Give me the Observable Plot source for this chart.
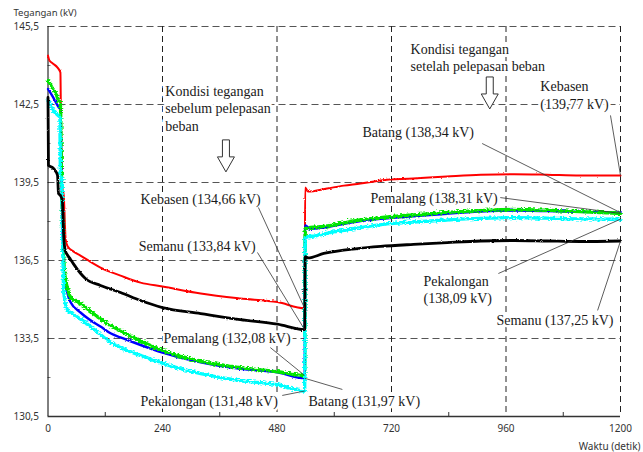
<!DOCTYPE html>
<html>
<head>
<meta charset="utf-8">
<script src="https://cdn.jsdelivr.net/npm/d3@7"></script>
<script src="https://cdn.jsdelivr.net/npm/@observablehq/plot@0.6"></script>
<style>
  html, body { margin: 0; padding: 0; background: #fff; }
</style>
</head>
<body>
<!-- Texture filters for the measured (noisy) voltage traces -->
<svg width="0" height="0" style="position:absolute">
  <defs>
    <filter id="noise-strong" x="-2%" y="-10%" width="104%" height="120%">
      <feTurbulence type="fractalNoise" baseFrequency="0.45 0.9" numOctaves="1" seed="7" result="n"/>
      <feDisplacementMap in="SourceGraphic" in2="n" scale="5.5" xChannelSelector="R" yChannelSelector="G"/>
    </filter>
    <filter id="noise-light" x="-2%" y="-10%" width="104%" height="120%">
      <feTurbulence type="fractalNoise" baseFrequency="0.5 0.9" numOctaves="1" seed="3" result="n"/>
      <feDisplacementMap in="SourceGraphic" in2="n" scale="2.5" xChannelSelector="R" yChannelSelector="G"/>
    </filter>
  </defs>
</svg>
<div id="chart"></div>
<script>
// Substation voltages (kV) over time (s), before and after load shedding.
const stations = ["Kebasen", "Semanu", "Pemalang", "Batang", "Pekalongan"];
const shedTime = 538;   // moment of load shedding (s)
const endTime = 1200;   // end of the record (s)
const valueBefore = [134.66, 133.84, 132.08, 131.97, 131.48]; // just before shedding
const valueAfter = [139.77, 137.25, 138.31, 138.34, 138.09];  // end of record

// [time, kV] readings before shedding
const kebasenPre = [[0,144.38],[3,144.19],[10,144.08],[20,143.92],[26,143.73],[27,142.3],[30,139.3],[33,139.0],[37,137.3],[41,137.05],[53,136.85],[68,136.69],[89,136.45],[110,136.23],[152,135.92],[194,135.65],[240,135.5],[320,135.23],[403,135.04],[481,134.9]];
const semanuPre = [[0,142.77],[1,140.15],[9,140.08],[15,139.96],[20,139.77],[22,139.08],[26,139.0],[30,138.81],[33,137.4],[36,136.9],[41,136.7],[47,136.55],[53,136.38],[79,135.8],[110,135.54],[152,135.27],[194,134.96],[240,134.69],[320,134.46],[403,134.23],[481,134.05]];
const pemalangPre = [[0,143.42],[5,143.27],[10,143.1],[16,142.96],[22,142.65],[26,142.55],[28,140.0],[31,137.5],[35,136.0],[40,135.5],[47,135.1],[68,134.85],[89,134.55],[110,134.25],[131,134.0],[152,133.8],[194,133.4],[240,133.04],[320,132.62],[403,132.38],[481,132.22]];
const batangPre = [[0,143.1],[10,142.8],[22,142.4],[26,142.3],[28,140.0],[31,137.3],[35,135.8],[40,135.3],[47,134.9],[68,134.5],[89,134.2],[110,133.96],[131,133.7],[152,133.54],[194,133.25],[240,132.96],[320,132.58],[403,132.33],[481,132.2]];
const pekalonganPre = [[0,142.65],[5,142.5],[10,142.3],[20,142.1],[25,142.0],[26,139.8],[29,139.6],[31,137.0],[33,135.3],[37,134.8],[41,134.6],[47,134.5],[68,134.25],[89,133.96],[110,133.65],[131,133.35],[152,133.15],[194,132.85],[240,132.54],[320,132.15],[403,131.88],[481,131.72]];

// [time, kV] readings after shedding
const kebasenPost = [[539,139.31],[545,139.15],[585,139.27],[620,139.38],[655,139.46],[697,139.58],[765,139.65],[836,139.73],[907,139.8],[977,139.82],[1046,139.8],[1115,139.77]];
const semanuPost = [[539,136.65],[545,136.6],[578,136.77],[649,136.96],[697,137.04],[766,137.12],[837,137.19],[907,137.25],[977,137.27],[1046,137.25],[1115,137.23]];
const pemalangPost = [[539,137.73],[550,137.77],[578,137.81],[649,138.05],[697,138.15],[766,138.25],[837,138.35],[907,138.42],[977,138.46],[1046,138.43],[1115,138.38]];
const batangPost = [[539,137.85],[550,137.72],[578,137.77],[649,138.0],[697,138.1],[766,138.2],[837,138.3],[907,138.38],[977,138.42],[1046,138.4],[1115,138.37]];
const pekalonganPost = [[539,137.38],[560,137.45],[600,137.6],[650,137.75],[697,137.88],[766,137.98],[837,138.06],[907,138.12],[977,138.15],[1046,138.13],[1115,138.1]];

const preReadings = [kebasenPre, semanuPre, pemalangPre, batangPre, pekalonganPre];
const postReadings = [kebasenPost, semanuPost, pemalangPost, batangPost, pekalonganPost];

// Axis ticks
const xTicks = [0, 240, 480, 720, 960, 1200];
const xMinor = [120, 360, 600, 840, 1080];
const yTicks = [130.5, 133.5, 136.5, 139.5, 142.5, 145.5];
const yMinor = [132, 135, 138, 141, 144];

// Callout placement [time, kV]: text anchor, and where its leader line starts
const preLabelAt = [[194,138.88],[190,137.08],[242,133.54],[546,131.12],[194,131.12]];
const preLeaderFrom = [[441,138.54],[439,136.81],[466,133.15],[617,131.54],[491,131.31]];
const postLabelAt = [[1032,142.88],[940,134.23],[676,138.92],[659,141.46],[787,135.4]];
const postLeaderFrom = [[1179,142.08],[1152,134.58],[948,138.92],[910,141.0],[944,136.0]];
const postTwoLines = [true, false, false, false, true];

// Condition notes with their hollow arrows
const conditionNotes = ["Kondisi tegangan\nsebelum pelepasan\nbeban", "Kondisi tegangan\nsetelah pelepasan beban"];
const conditionAt = [[246,142.38],[760,144.33]];
const arrowsAt = [[374,141.12],[927,143.54]];

const comma = (v, n) => v.toFixed(n).replace(".", ",");

// One row per reading, with the jump at the shedding time
const rows = [];
stations.forEach((s, i) => {
  const pts = preReadings[i].concat([[shedTime, valueBefore[i]]], postReadings[i], [[endTime, valueAfter[i]]]);
  for (const [t, v] of pts) rows.push({station: s, t, v});
});

const preNotes = stations.map((s, i) => ({
  text: `${s} (${comma(valueBefore[i], 2)} kV)`,
  t: preLabelAt[i][0], v: preLabelAt[i][1],
  t1: preLeaderFrom[i][0], v1: preLeaderFrom[i][1],
  t2: shedTime, v2: valueBefore[i]
}));
const postNotes = stations.map((s, i) => ({
  text: postTwoLines[i] ? `${s}\n(${comma(valueAfter[i], 2)} kV)` : `${s} (${comma(valueAfter[i], 2)} kV)`,
  t: postLabelAt[i][0], v: postLabelAt[i][1],
  t1: postLeaderFrom[i][0], v1: postLeaderFrom[i][1],
  t2: endTime, v2: valueAfter[i]
}));
const notes = preNotes.concat(postNotes);

const lineStyle = {
  Kebasen: {stroke: "#ff0000", strokeWidth: 2, texture: "noise-light"},
  Batang: {stroke: "#0000ff", strokeWidth: 2.4, texture: "noise-light"},
  Pemalang: {stroke: "#00e600", strokeWidth: 3.4, texture: "noise-strong"},
  Pekalongan: {stroke: "#00ffff", strokeWidth: 3.4, texture: "noise-strong"},
  Semanu: {stroke: "#000000", strokeWidth: 2.8, texture: "noise-light"}
};
const drawOrder = ["Kebasen", "Batang", "Pemalang", "Pekalongan", "Semanu"];

const serif = "'Liberation Serif', 'Times New Roman', serif";

// Hollow down arrows, positioned through the chart's scales
function arrows(index, scales) {
  const g = d3.create("svg:g");
  for (const [t, v] of arrowsAt) {
    const cx = scales.x(t), cy = scales.y(v);
    g.append("path")
      .attr("d", `M${cx-3.5},${cy}L${cx+3.5},${cy}L${cx+3.5},${cy+17}L${cx+8.5},${cy+17}L${cx},${cy+32}L${cx-8.5},${cy+17}L${cx-3.5},${cy+17}Z`)
      .attr("fill", "white")
      .attr("stroke", "#333")
      .attr("stroke-width", 1);
  }
  return g.node();
}

const chart = Plot.plot({
  width: 643,
  height: 452,
  marginLeft: 47.5,
  marginRight: 23,
  marginTop: 26,
  marginBottom: 36,
  x: {domain: [0, 1200]},
  y: {domain: [130.5, 145.5]},
  style: {fontFamily: "'Noto Sans', sans-serif", fontSize: "10px", color: "#333", background: "#fff"},
  marks: [
    Plot.gridY(yTicks.slice(1), {stroke: "#555", strokeOpacity: 1, strokeWidth: 1.2, strokeDasharray: "7,4"}),
    Plot.gridX(xTicks.slice(1), {stroke: "#222", strokeOpacity: 1, strokeWidth: 1, strokeDasharray: "6,4"}),
    Plot.axisX(xTicks, {tickSize: 0, tickPadding: 8, tickFormat: d => String(d), label: null, fill: "#333"}),
    Plot.axisY(yTicks, {tickSize: 0, tickPadding: 9, tickFormat: d => comma(d, 1), label: null, fill: "#333"}),
    Plot.axisX(xMinor, {tickSize: -4, tickFormat: () => "", label: null, stroke: "#333"}),
    Plot.axisY(yMinor, {tickSize: -3, tickFormat: () => "", label: null, stroke: "#777"}),
    Plot.ruleY([130.5], {stroke: "#333", strokeWidth: 1.5}),
    Plot.ruleX([0], {stroke: "#000", strokeWidth: 1}),
    ...drawOrder.map(s => Plot.line(rows.filter(d => d.station === s), {
      x: "t", y: "v", curve: "monotone-x",
      stroke: lineStyle[s].stroke, strokeWidth: lineStyle[s].strokeWidth,
      imageFilter: `url(#${lineStyle[s].texture})`
    })),
    Plot.text(notes, {
      x: "t", y: "v", text: "text", textAnchor: "start", lineAnchor: "middle",
      fontFamily: serif, fontSize: 14, fill: "#1a1a1a", lineHeight: 1.25,
      stroke: "white", strokeWidth: 5
    }),
    Plot.text(conditionNotes, {
      x: (d, i) => conditionAt[i][0], y: (d, i) => conditionAt[i][1], text: d => d,
      textAnchor: "start", lineAnchor: "middle",
      fontFamily: serif, fontSize: 14, fill: "#1a1a1a", lineHeight: 1.25,
      stroke: "white", strokeWidth: 6
    }),
    Plot.link(notes, {x1: "t1", y1: "v1", x2: "t2", y2: "v2", stroke: "#333", strokeWidth: 0.8}),
    arrows,
    Plot.text(["Tegangan (kV)"], {frameAnchor: "top-left", dx: -34.5, dy: -14, textAnchor: "start", lineAnchor: "middle", fill: "#333", fontSize: 9.5}),
    Plot.text(["Waktu (detik)"], {frameAnchor: "bottom-right", dx: 20, dy: 30, textAnchor: "end", lineAnchor: "middle", fill: "#333", fontSize: 10})
  ]
});

document.getElementById("chart").appendChild(chart);
</script>
</body>
</html>
